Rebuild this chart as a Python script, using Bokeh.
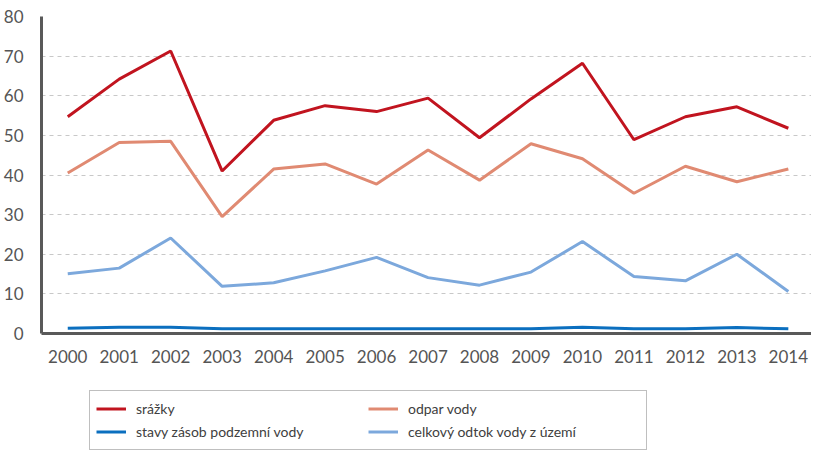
from bokeh.plotting import figure
from bokeh.models import Legend, LegendItem, FixedTicker, Range1d
from bokeh.layouts import column
from bokeh.embed import file_html
from bokeh.resources import INLINE

years = [2000, 2001, 2002, 2003, 2004, 2005, 2006, 2007, 2008, 2009, 2010, 2011, 2012, 2013, 2014]
srazky = [54.7, 64.2, 71.3, 41.0, 53.8, 57.5, 56.0, 59.4, 49.4, 59.2, 68.2, 48.9, 54.7, 57.2, 51.8]
odpar = [40.5, 48.2, 48.5, 29.5, 41.5, 42.8, 37.7, 46.3, 38.7, 47.9, 44.1, 35.4, 42.2, 38.3, 41.5]
stavy = [1.3, 1.6, 1.6, 1.2, 1.2, 1.2, 1.2, 1.2, 1.2, 1.2, 1.6, 1.2, 1.2, 1.5, 1.2]
odtok = [15.1, 16.5, 24.1, 11.9, 12.8, 15.8, 19.2, 14.1, 12.2, 15.5, 23.2, 14.4, 13.3, 20.0, 10.6]
y_ticks = [0, 10, 20, 30, 40, 50, 60, 70, 80]

labels = ["srážky", "odpar vody", "stavy zásob podzemní vody", "celkový odtok vody z území"]
colors = ["#C1141F", "#E08A72", "#0B6FBF", "#7CA8DC"]
series = [srazky, odpar, stavy, odtok]

FONT = "Lato"

p = figure(width=811, height=375, output_backend="svg", toolbar_location=None,
           x_range=Range1d(1999.49, 2014.45), y_range=Range1d(0, 80),
           min_border_left=32, min_border_right=0, min_border_top=16, min_border_bottom=42)
p.outline_line_color = None
p.background_fill_color = "white"
p.border_fill_color = "white"

for vals, col in zip(series, colors):
    p.line(years, vals, line_color=col, line_width=3)

p.xgrid.grid_line_color = None
p.ygrid.grid_line_color = "#C8C8C8"
p.ygrid.grid_line_dash = "4 4"
p.ygrid.grid_line_width = 1
p.ygrid.ticker = FixedTicker(ticks=y_ticks[1:])

for ax in (p.xaxis[0], p.yaxis[0]):
    ax.axis_line_color = "#595959"
    ax.axis_line_width = 3
    ax.major_tick_line_color = None
    ax.minor_tick_line_color = None
    ax.major_label_text_font = FONT
    ax.major_label_text_font_size = "17px"
    ax.major_label_text_color = "#555555"

p.xaxis[0].ticker = FixedTicker(ticks=years)
p.xaxis[0].major_label_standoff = 10
p.yaxis[0].ticker = FixedTicker(ticks=y_ticks)
p.yaxis[0].major_label_standoff = 12

# legend-only figure below the chart (series drawn outside its visible range)
p2 = figure(width=811, height=75, output_backend="svg", toolbar_location=None,
            x_range=Range1d(0, 1), y_range=Range1d(1000, 1001),
            min_border_left=0, min_border_right=0, min_border_top=0, min_border_bottom=0)
p2.outline_line_color = None
p2.axis.visible = False
p2.grid.visible = False
proxies = [p2.line(years, vals, line_color=c, line_width=3) for vals, c in zip(series, colors)]

legend = Legend(items=[
    LegendItem(label=labels[0], renderers=[proxies[0]]),
    LegendItem(label=labels[2], renderers=[proxies[2]]),
    LegendItem(label=labels[1], renderers=[proxies[1]]),
    LegendItem(label=labels[3], renderers=[proxies[3]]),
], location=(48, 0), nrows=2, orientation="vertical",
    label_text_font=FONT, label_text_font_size="14px", label_text_color="#404040",
    glyph_width=30, glyph_height=23, label_height=23, label_width=232, label_standoff=10,
    spacing=0, padding=6, margin=0,
    border_line_color="#7F7F7F", border_line_width=1.5,
    background_fill_color="white", background_fill_alpha=1.0)
p2.add_layout(legend, "center")

layout = column(p, p2, spacing=0)
open("out.html", "w").write(file_html(layout, INLINE))
